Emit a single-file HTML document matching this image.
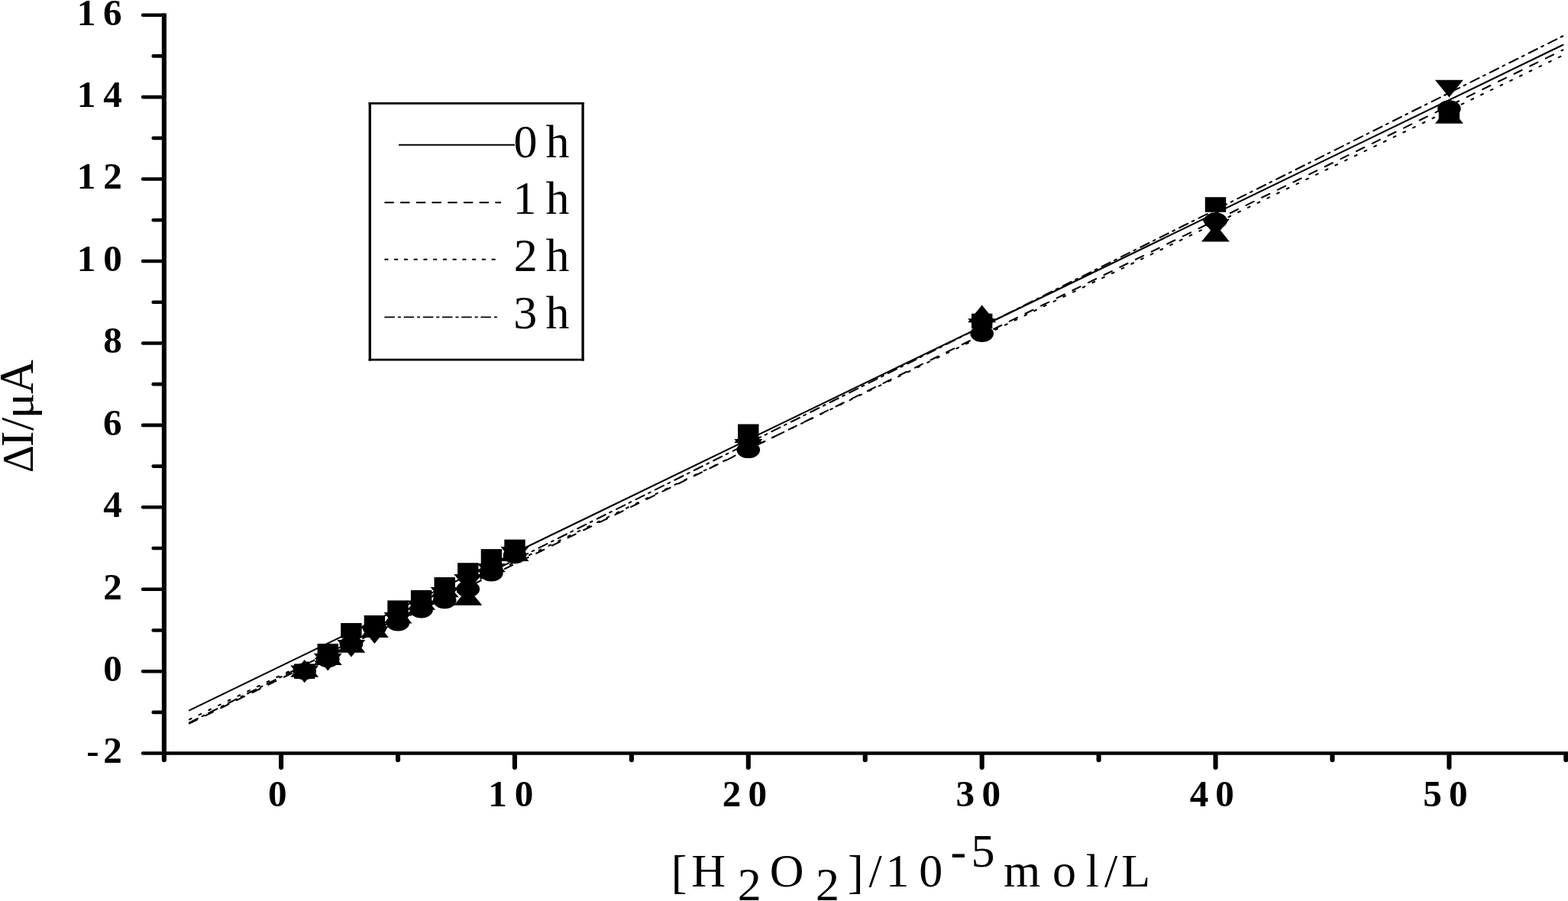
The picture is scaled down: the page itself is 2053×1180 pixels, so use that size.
<!DOCTYPE html>
<html lang="en"><head><meta charset="utf-8"><title>Chart</title>
<style>html,body{margin:0;padding:0;background:#fff;overflow:hidden}svg{display:block}text{font-family:"Liberation Serif","DejaVu Serif",serif;fill:#000}.t{font-weight:bold;font-size:49.2px}.r{font-size:62px}</style></head><body>
<svg width="2053" height="1180" viewBox="0 0 2053 1180" role="img" aria-label="Calibration plot of current change versus hydrogen peroxide concentration">
<rect width="2053" height="1180" fill="#fff"/>
<g fill="none" stroke="#000" stroke-width="2.1" stroke-linecap="round">
<line x1="247.94" y1="930.33" x2="2046.46" y2="58.75"/>
<line x1="247.94" y1="947.53" x2="2046.46" y2="65.36" stroke-dasharray="11.266 11.735"/>
<line x1="247.95" y1="942.33" x2="2046.45" y2="72.39" stroke-dasharray="2.899 11.226"/>
<line x1="247.94" y1="946.43" x2="2046.46" y2="47.17" stroke-dasharray="12.323 6.237 2.819 7.038"/>
</g>
<g fill="#000">
<rect x="385.0" y="869.4" width="27.4" height="19.6"/>
<ellipse cx="398.7" cy="879.2" rx="15.3" ry="10.9"/>
<polygon points="398.7,864.1 380.2,886.8 417.2,886.8"/>
<polygon points="398.7,894.3 380.2,871.6 417.2,871.6"/>
<rect x="415.6" y="843.0" width="27.4" height="19.6"/>
<ellipse cx="429.3" cy="863.2" rx="15.3" ry="10.9"/>
<polygon points="429.3,848.3 410.8,871.0 447.8,871.0"/>
<polygon points="429.3,878.4 410.8,855.7 447.8,855.7"/>
<rect x="446.2" y="816.0" width="27.4" height="19.6"/>
<ellipse cx="459.9" cy="843.6" rx="15.3" ry="10.9"/>
<polygon points="459.9,832.0 441.4,854.7 478.4,854.7"/>
<polygon points="459.9,860.6 441.4,837.9 478.4,837.9"/>
<rect x="476.7" y="805.9" width="27.4" height="19.6"/>
<ellipse cx="490.4" cy="823.0" rx="15.3" ry="10.9"/>
<polygon points="490.4,812.4 471.9,835.1 508.9,835.1"/>
<polygon points="490.4,843.0 471.9,820.3 508.9,820.3"/>
<rect x="507.3" y="786.4" width="27.4" height="19.6"/>
<ellipse cx="521.0" cy="815.5" rx="15.3" ry="10.9"/>
<polygon points="521.0,793.9 502.5,816.6 539.5,816.6"/>
<polygon points="521.0,824.8 502.5,802.1 539.5,802.1"/>
<rect x="537.9" y="772.9" width="27.4" height="19.6"/>
<ellipse cx="551.6" cy="798.5" rx="15.3" ry="10.9"/>
<polygon points="551.6,776.1 533.1,798.8 570.1,798.8"/>
<polygon points="551.6,809.1 533.1,786.4 570.1,786.4"/>
<rect x="568.5" y="756.0" width="27.4" height="19.6"/>
<ellipse cx="582.2" cy="786.3" rx="15.3" ry="10.9"/>
<polygon points="582.2,759.5 563.7,782.2 600.7,782.2"/>
<polygon points="582.2,791.8 563.7,769.1 600.7,769.1"/>
<rect x="599.1" y="737.2" width="27.4" height="19.6"/>
<ellipse cx="612.8" cy="771.5" rx="15.3" ry="10.9"/>
<polygon points="612.8,770.0 594.3,792.7 631.3,792.7"/>
<polygon points="612.8,774.7 594.3,752.0 631.3,752.0"/>
<rect x="629.7" y="719.1" width="27.4" height="19.6"/>
<ellipse cx="643.4" cy="750.6" rx="15.3" ry="10.9"/>
<polygon points="643.4,726.6 624.9,749.3 661.9,749.3"/>
<polygon points="643.4,760.6 624.9,737.9 661.9,737.9"/>
<rect x="660.3" y="706.6" width="27.4" height="19.6"/>
<ellipse cx="674.0" cy="727.2" rx="15.3" ry="10.9"/>
<polygon points="674.0,712.3 655.5,735.0 692.5,735.0"/>
<polygon points="674.0,738.7 655.5,716.0 692.5,716.0"/>
<rect x="966.1" y="555.5" width="27.4" height="19.6"/>
<ellipse cx="979.8" cy="589.2" rx="15.3" ry="10.9"/>
<polygon points="979.8,557.4 961.3,580.1 998.3,580.1"/>
<polygon points="979.8,597.6 961.3,574.9 998.3,574.9"/>
<rect x="1272.0" y="410.7" width="27.4" height="19.6"/>
<ellipse cx="1285.7" cy="437.0" rx="15.3" ry="10.9"/>
<polygon points="1285.7,399.6 1267.2,422.3 1304.2,422.3"/>
<polygon points="1285.7,439.9 1267.2,417.2 1304.2,417.2"/>
<rect x="1577.8" y="258.2" width="27.4" height="19.6"/>
<ellipse cx="1591.5" cy="289.1" rx="15.3" ry="10.9"/>
<polygon points="1591.5,293.7 1573.0,316.4 1610.0,316.4"/>
<polygon points="1591.5,309.4 1573.0,286.7 1610.0,286.7"/>
<rect x="1883.7" y="140.2" width="27.4" height="19.6"/>
<ellipse cx="1897.4" cy="142.2" rx="15.3" ry="10.9"/>
<polygon points="1897.4,139.1 1878.9,161.8 1915.9,161.8"/>
<polygon points="1897.4,127.4 1878.9,104.7 1915.9,104.7"/>
</g>
<g fill="none" stroke="#000" stroke-linecap="round">
<line x1="214.9" y1="17.38" x2="214.9" y2="986.45" stroke-width="6.1" stroke-linecap="butt"/>
<line x1="214.9" y1="986.45" x2="2053.38" y2="986.45" stroke-width="4.6" stroke-linecap="butt"/>
<g stroke-width="4.6">
<line x1="187.1" y1="986.45" x2="214.9" y2="986.45"/>
<line x1="200.7" y1="932.92" x2="214.9" y2="932.92"/>
<line x1="187.1" y1="879.20" x2="214.9" y2="879.20"/>
<line x1="200.7" y1="825.48" x2="214.9" y2="825.48"/>
<line x1="187.1" y1="771.76" x2="214.9" y2="771.76"/>
<line x1="200.7" y1="718.04" x2="214.9" y2="718.04"/>
<line x1="187.1" y1="664.32" x2="214.9" y2="664.32"/>
<line x1="200.7" y1="610.60" x2="214.9" y2="610.60"/>
<line x1="187.1" y1="556.88" x2="214.9" y2="556.88"/>
<line x1="200.7" y1="503.16" x2="214.9" y2="503.16"/>
<line x1="187.1" y1="449.44" x2="214.9" y2="449.44"/>
<line x1="200.7" y1="395.72" x2="214.9" y2="395.72"/>
<line x1="187.1" y1="342.00" x2="214.9" y2="342.00"/>
<line x1="200.7" y1="288.28" x2="214.9" y2="288.28"/>
<line x1="187.1" y1="234.56" x2="214.9" y2="234.56"/>
<line x1="200.7" y1="180.84" x2="214.9" y2="180.84"/>
<line x1="187.1" y1="127.12" x2="214.9" y2="127.12"/>
<line x1="200.7" y1="73.40" x2="214.9" y2="73.40"/>
<line x1="187.1" y1="19.68" x2="214.9" y2="19.68"/>
</g>
<g stroke-width="6.1">
<line x1="214.90" y1="989.50" x2="214.90" y2="995.2"/>
<line x1="368.10" y1="989.50" x2="368.10" y2="1005.1"/>
<line x1="521.03" y1="989.50" x2="521.03" y2="995.2"/>
<line x1="673.96" y1="989.50" x2="673.96" y2="1005.1"/>
<line x1="826.89" y1="989.50" x2="826.89" y2="995.2"/>
<line x1="979.82" y1="989.50" x2="979.82" y2="1005.1"/>
<line x1="1132.75" y1="989.50" x2="1132.75" y2="995.2"/>
<line x1="1285.68" y1="989.50" x2="1285.68" y2="1005.1"/>
<line x1="1438.61" y1="989.50" x2="1438.61" y2="995.2"/>
<line x1="1591.54" y1="989.50" x2="1591.54" y2="1005.1"/>
<line x1="1744.47" y1="989.50" x2="1744.47" y2="995.2"/>
<line x1="1897.40" y1="989.50" x2="1897.40" y2="1005.1"/>
<line x1="2050.33" y1="989.50" x2="2050.33" y2="995.2"/>
</g>
</g>
<text class="t" x="113.3 135.2" y="999.4">-2</text>
<text class="t" x="135.2" y="892.0">0</text>
<text class="t" x="135.2" y="784.6">2</text>
<text class="t" x="135.3" y="677.1">4</text>
<text class="t" x="135.1" y="569.7">6</text>
<text class="t" x="135.2" y="462.2">8</text>
<text class="t" x="100.8 135.2" y="354.8">10</text>
<text class="t" x="100.8 135.2" y="247.4">12</text>
<text class="t" x="100.8 135.3" y="139.9">14</text>
<text class="t" x="100.8 135.1" y="32.5">16</text>
<text class="t" x="350.9" y="1055.9">0</text>
<text class="t" x="639.3 673.7" y="1055.9">10</text>
<text class="t" x="945.8 979.5" y="1055.9">20</text>
<text class="t" x="1251.6 1285.4" y="1055.9">30</text>
<text class="t" x="1557.7 1591.2" y="1055.9">40</text>
<text class="t" x="1863.3 1897.1" y="1055.9">50</text>
<rect x="484.3" y="135.2" width="278.8" height="336" fill="#fff"/>
<path d="M484.3 133.9V472.6M763.1 133.9V472.6" fill="none" stroke="#000" stroke-width="3.3"/>
<path d="M482.65 135.3H764.75M482.65 471.2H764.75" fill="none" stroke="#000" stroke-width="2.8"/>
<g fill="none" stroke="#000" stroke-width="1.9">
<line x1="522" y1="189.7" x2="674" y2="189.7"/>
<line x1="503.4" y1="265.2" x2="656" y2="265.2" stroke-dasharray="12.4 8.3"/>
<line x1="503.4" y1="339.7" x2="650" y2="339.7" stroke-dasharray="5 7.75"/>
<line x1="503.4" y1="415.4" x2="654" y2="415.4" stroke-dasharray="13.5 4 4 3.7"/>
</g>
<text class="r" x="672.5 703.5 714.6" y="205.5">0 h</text>
<text class="r" x="671.6 702.6 714.6" y="280.4">1 h</text>
<text class="r" x="672.8 703.8 714.6" y="355.0">2 h</text>
<text class="r" x="672.2 703.2 714.6" y="430.1">3 h</text>
<text class="r" transform="translate(42.9,0) rotate(-90)"><tspan x="-619.2" y="0" font-size="56">Δ</tspan><tspan x="-585.3" y="0" font-size="62">I</tspan><tspan x="-564.0" y="0" font-size="62">/</tspan><tspan x="-548.3" y="0" font-size="56" textLength="33.63" lengthAdjust="spacingAndGlyphs">μ</tspan><tspan x="-516.0" y="0" font-size="63.4" textLength="44.87" lengthAdjust="spacingAndGlyphs">A</tspan></text>
<text class="r"><tspan x="878.7" y="1163.4">[</tspan><tspan x="905.3" y="1161.2">H</tspan><tspan x="965.8" y="1179.4">2</tspan><tspan x="1007.8" y="1161.2">O</tspan><tspan x="1068.0" y="1179.4">2</tspan><tspan x="1110.1" y="1163.4">]</tspan><tspan x="1137.6" y="1161.2">/</tspan><tspan x="1159.6" y="1161.2">1</tspan><tspan x="1203.2" y="1161.2">0</tspan><tspan x="1244.5" y="1134.6">-</tspan><tspan x="1271.4" y="1134.6">5</tspan><tspan x="1313.9" y="1161.2">m</tspan><tspan x="1378.1" y="1161.2">o</tspan><tspan x="1421.7" y="1161.2">l</tspan><tspan x="1446.0" y="1161.2">/</tspan><tspan x="1468.2" y="1161.2">L</tspan></text>
</svg></body></html>
